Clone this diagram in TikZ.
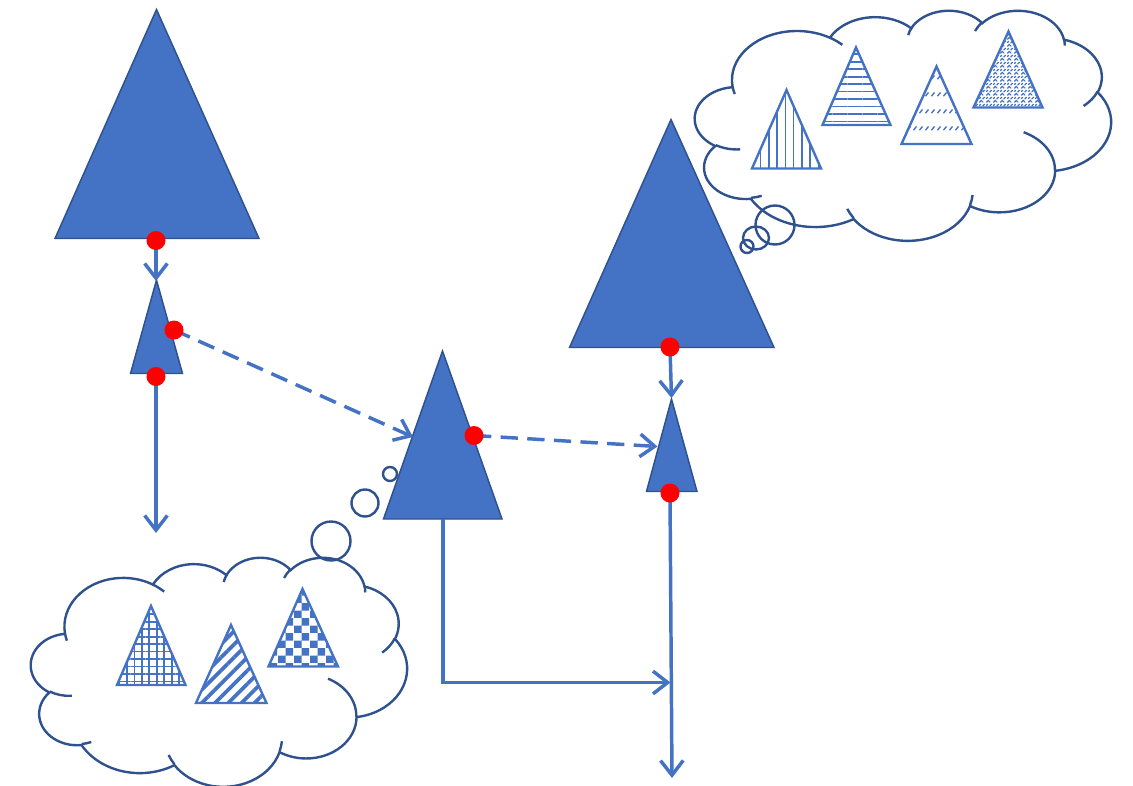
\documentclass[tikz,border=0pt]{standalone}
\usetikzlibrary{arrows.meta,patterns,patterns.meta}
\definecolor{ppt}{HTML}{4472C4}
\definecolor{pptdark}{HTML}{2F528F}

% arc of an ellipse with OOXML-style (visual) angles
\newcommand\oarc[4]{arc[x radius=#1, y radius=#2, start angle={atan2(#1*sin(#3),#2*cos(#3))}, delta angle={mod(atan2(#1*sin(#3+#4),#2*cos(#3+#4))-atan2(#1*sin(#3),#2*cos(#3))+720,360)}]}

\newcommand\cloudouter{(9.028,33.264)
 \oarc{15.632}{21.273}{-190.488}{123.781}
 \oarc{12.345}{16.822}{-144.102}{89.945}
 \oarc{10.104}{13.762}{-145.808}{99.723}
 \oarc{11.243}{15.266}{-130.986}{117.242}
 \oarc{12.345}{16.836}{-78.709}{109.027}
 \oarc{15.683}{21.343}{-46.267}{130.269}
 \oarc{13.391}{18.211}{0.625}{114.033}
 \oarc{15.630}{21.331}{22.452}{115.173}
 \oarc{17.870}{24.405}{66.243}{75.711}
 \oarc{10.093}{13.699}{-274.942}{146.736}
 \oarc{10.058}{13.762}{-246.829}{152.519} -- cycle}

\newcommand\cloudinner{(10.863,60.594) \oarc{10.058}{13.762}{86.742}{26.430}
 (16.037,80.785) \oarc{10.093}{13.699}{73.610}{11.447}
 (38.144,90.486) \oarc{15.630}{21.331}{137.624}{14.081}
 (66.729,80.442) \oarc{15.630}{21.331}{6.453}{15.998}
 (79.002,53.134) \oarc{13.391}{18.211}{-70.292}{70.917}
 (96.755,35.542) \oarc{12.345}{16.836}{30.318}{27.752}
 (88.713,12.560) \oarc{11.243}{15.266}{-13.744}{14.859}
 (67.310,9.148) \oarc{11.243}{15.266}{-149.181}{18.195}
 (51.252,10.926) \oarc{10.104}{13.762}{-163.494}{17.686}
 (32.407,12.019) \oarc{15.632}{21.273}{-66.707}{12.319}
 (9.553,36.549) \oarc{15.632}{21.273}{157.654}{11.858}}

\pgfdeclarepatternformonly{checkers}{\pgfpointorigin}{\pgfpoint{11.6pt}{11.6pt}}{\pgfpoint{11.6pt}{11.6pt}}{%
  \pgfpathrectangle{\pgfpointorigin}{\pgfpoint{5.8pt}{5.8pt}}%
  \pgfpathrectangle{\pgfpoint{5.8pt}{5.8pt}}{\pgfpoint{5.8pt}{5.8pt}}%
  \pgfusepath{fill}}
\pgfdeclarepatternformonly{smallwaves}{\pgfpointorigin}{\pgfpoint{4.6pt}{12.6pt}}{\pgfpoint{4.6pt}{12.6pt}}{%
  \pgfsetlinewidth{1.1pt}\pgfsetroundcap
  \pgfpathmoveto{\pgfpoint{0.6pt}{0.8pt}}\pgfpathlineto{\pgfpoint{2.8pt}{3.2pt}}%
  \pgfusepath{stroke}}
\pgfdeclarepatternformonly{mazeweave}{\pgfpointorigin}{\pgfpoint{5.4pt}{5.4pt}}{\pgfpoint{5.4pt}{5.4pt}}{%
  \pgfsetlinewidth{1pt}\pgfsetroundcap
  \pgfpathmoveto{\pgfpoint{0.5pt}{0.7pt}}\pgfpathlineto{\pgfpoint{1.9pt}{2.1pt}}\pgfpathlineto{\pgfpoint{3.3pt}{0.7pt}}%
  \pgfpathmoveto{\pgfpoint{3.2pt}{3.4pt}}\pgfpathlineto{\pgfpoint{4.6pt}{4.8pt}}%
  \pgfpathmoveto{\pgfpoint{0.5pt}{3.8pt}}\pgfpathlineto{\pgfpoint{1.4pt}{4.7pt}}%
  \pgfusepath{stroke}}

\begin{document}
\begin{tikzpicture}[x=0.75pt,y=-0.75pt,
  tri/.style={fill=ppt, draw=pptdark, line width=1.1pt},
  ptri/.style={draw=ppt, line width=1.8pt, pattern color=ppt},
  cloudln/.style={draw=pptdark, line width=1.8pt},
  conn/.style={draw=ppt, line width=2.6pt, -{Straight Barb[length=11pt,width=17pt]}},
  dconn/.style={conn, dash pattern=on 13pt off 7pt},
  reddot/.style={circle, fill=red, minimum size=14.25pt, inner sep=0pt}]
\useasboundingbox (0,0) rectangle (1133,786);

% ---- top-right thought cloud
\begin{scope}[shift={(695,10)}, xscale=4.16, yscale=2.30]
  \draw[cloudln] \cloudouter;
  \draw[cloudln] \cloudinner;
\end{scope}
\draw[cloudln] (775,225) circle[radius=19.5];
\draw[cloudln] (756,238) circle[x radius=13, y radius=11.5];
\draw[cloudln] (747,246.5) circle[radius=6.5];

% ---- bottom-left thought cloud
\begin{scope}[shift={(31,557)}, xscale=3.76, yscale=2.29]
  \draw[cloudln] \cloudouter;
  \draw[cloudln] \cloudinner;
\end{scope}
\draw[cloudln] (331,541) circle[radius=19.5];
\draw[cloudln] (365,503) circle[radius=13.5];
\draw[cloudln] (390,474) circle[radius=7];

% ---- patterned triangles in the clouds
\draw[ptri, pattern={Lines[angle=90,distance=6.2pt,line width=1.1pt]}] (786.5,90) -- (821,168.5) -- (752,168.5) -- cycle;
\draw[ptri, pattern={Lines[angle=0,distance=5.6pt,line width=1.3pt]}] (856,47.5) -- (890.5,125) -- (822.5,125) -- cycle;
\draw[ptri, pattern=smallwaves] (936.5,66.5) -- (971.5,144) -- (901.5,144) -- cycle;
\draw[ptri, pattern=mazeweave] (1008.5,31.5) -- (1042.5,107.5) -- (973.5,107.5) -- cycle;
\draw[ptri, pattern={Hatch[angle=0,distance=5.6pt,line width=1.3pt]}] (151,606) -- (185.5,685) -- (117,685) -- cycle;
\draw[ptri, pattern={Lines[angle=45,distance=7pt,line width=2.8pt]}] (231,625) -- (266.5,703) -- (196,703) -- cycle;
\draw[ptri, pattern=checkers] (302.5,589) -- (338,666.5) -- (268.5,666.5) -- cycle;

% ---- solid triangles
\draw[tri] (156.5,9.5) -- (259,238.5) -- (55,238.5) -- cycle;
\draw[tri] (156.5,280) -- (182.5,373.5) -- (130.5,373.5) -- cycle;
\draw[tri] (442.5,351) -- (502,519) -- (383.5,519) -- cycle;
\draw[tri] (671,119.5) -- (774,347.5) -- (569.5,347.5) -- cycle;
\draw[tri] (671.5,399) -- (697,491.5) -- (646.5,491.5) -- cycle;

% ---- named points
\coordinate (p1) at (156,240.5);
\coordinate (p2) at (174,330);
\coordinate (p3) at (156,376.5);
\coordinate (p4) at (474,435.5);
\coordinate (p5) at (670,347);
\coordinate (p6) at (670,493);
\coordinate (t2apex) at (156,281);
\coordinate (end1) at (156,533);
\coordinate (t3left) at (413,437);
\coordinate (t5left) at (657.5,446.5);
\coordinate (t5apex) at (671.5,398);
\coordinate (end2) at (672,778);
\coordinate (t3base) at (443,519);
\coordinate (join) at (670.5,682.5);

% ---- connectors
\draw[conn] (p1) -- (t2apex);
\draw[conn] (p3) -- (end1);
\draw[dconn] (p2) -- (t3left);
\draw[dconn] (p4) -- (t5left);
\draw[conn] (p5) -- (t5apex);
\draw[conn] (p6) -- (end2);
\draw[conn] (t3base) |- (join);

% ---- red dots
\node[reddot] (d1) at (p1) {};
\node[reddot] (d2) at (p2) {};
\node[reddot] (d3) at (p3) {};
\node[reddot] (d4) at (p4) {};
\node[reddot] (d5) at (p5) {};
\node[reddot] (d6) at (p6) {};
\end{tikzpicture}
\end{document}
